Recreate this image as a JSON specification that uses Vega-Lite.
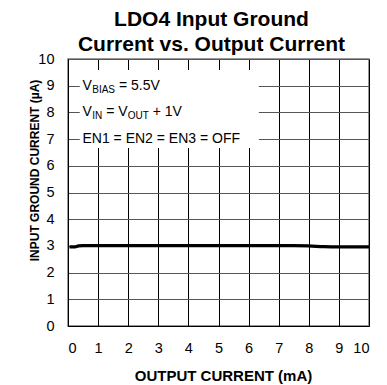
{
  "$schema": "https://vega.github.io/schema/vega-lite/v6.json",
  "width": 301,
  "height": 267,
  "autosize": "none",
  "padding": {"left": 68, "top": 59, "right": 18, "bottom": 59},
  "background": "white",
  "config": {
    "font": "Liberation Sans",
    "view": {"stroke": "#777777", "strokeWidth": 1.5}
  },
  "title": {
    "text": ["LDO4 Input Ground", "Current vs. Output Current"],
    "fontSize": 21,
    "fontWeight": "bold",
    "font": "Liberation Sans",
    "color": "black",
    "anchor": "middle",
    "frame": "group",
    "dx": -7,
    "dy": 4,
    "lineHeight": 25,
    "offset": 0
  },
  "data": {
    "values": [
      {"current": 0.05, "ignd": 2.96},
      {"current": 0.2, "ignd": 2.96},
      {"current": 0.35, "ignd": 3.0},
      {"current": 0.5, "ignd": 3.01},
      {"current": 1, "ignd": 3.01},
      {"current": 2, "ignd": 3.01},
      {"current": 3, "ignd": 3.01},
      {"current": 4, "ignd": 3.01},
      {"current": 5, "ignd": 3.01},
      {"current": 6, "ignd": 3.01},
      {"current": 7, "ignd": 3.01},
      {"current": 7.5, "ignd": 3.01},
      {"current": 8, "ignd": 3.0},
      {"current": 8.5, "ignd": 2.97},
      {"current": 9, "ignd": 2.96},
      {"current": 10, "ignd": 2.96}
    ]
  },
  "encoding": {
    "x": {
      "field": "current",
      "type": "quantitative",
      "scale": {"domain": [0, 10], "nice": false, "zero": false},
      "axis": {
        "title": "OUTPUT CURRENT (mA)",
        "values": [0, 1, 2, 3, 4, 5, 6, 7, 8, 9, 10],
        "labelOverlap": false,
        "ticks": false,
        "labelFontSize": 14.5,
        "labelColor": "black",
        "labelPadding": 15,
        "domainColor": "black",
        "domainWidth": 1,
        "gridColor": "black",
        "gridOpacity": 1,
        "gridWidth": 1,
        "titleFontSize": 15,
        "titleFontWeight": "bold",
        "titleColor": "black",
        "titlePadding": 14,
        "titleX": 155
      }
    },
    "y": {
      "field": "ignd",
      "type": "quantitative",
      "scale": {"domain": [0, 10], "nice": false, "zero": false},
      "axis": {
        "title": "INPUT GROUND CURRENT (µA)",
        "values": [0, 1, 2, 3, 4, 5, 6, 7, 8, 9, 10],
        "labelOverlap": false,
        "ticks": false,
        "labelFontSize": 14.5,
        "labelColor": "black",
        "labelPadding": 14,
        "domainColor": "black",
        "domainWidth": 1,
        "gridColor": "#555555",
        "gridOpacity": 1,
        "gridWidth": 1,
        "titleFontSize": 12,
        "titleFontWeight": "bold",
        "titleColor": "black",
        "titleAngle": -90,
        "titleBaseline": "middle",
        "titleAlign": "center",
        "titleX": -34,
        "titleY": 111
      }
    }
  },
  "layer": [
    {
      "transform": [{"filter": "datum.current == 10"}],
      "mark": {"type": "rect", "color": "white", "opacity": 1},
      "encoding": {
        "x": {"datum": 0.39},
        "x2": {"datum": 6.34},
        "y": {"datum": 9.59},
        "y2": {"datum": 6.67}
      }
    },
    {
      "mark": {"type": "line", "color": "black", "strokeWidth": 3.2, "interpolate": "monotone"}
    },
    {
      "transform": [{"filter": "datum.current == 10"}],
      "mark": {"type": "text", "align": "left", "baseline": "middle", "fontSize": 14, "color": "black"},
      "encoding": {"x": {"datum": 0.48}, "y": {"datum": 9}, "text": {"value": "V"}}
    },
    {
      "transform": [{"filter": "datum.current == 10"}],
      "mark": {"type": "text", "align": "left", "baseline": "middle", "fontSize": 10, "dx": 9.8, "dy": 4, "color": "black"},
      "encoding": {"x": {"datum": 0.48}, "y": {"datum": 9}, "text": {"value": "BIAS"}}
    },
    {
      "transform": [{"filter": "datum.current == 10"}],
      "mark": {"type": "text", "align": "left", "baseline": "middle", "fontSize": 14, "dx": 36.5, "color": "black"},
      "encoding": {"x": {"datum": 0.48}, "y": {"datum": 9}, "text": {"value": "= 5.5V"}}
    },
    {
      "transform": [{"filter": "datum.current == 10"}],
      "mark": {"type": "text", "align": "left", "baseline": "middle", "fontSize": 14, "color": "black"},
      "encoding": {"x": {"datum": 0.48}, "y": {"datum": 8}, "text": {"value": "V"}}
    },
    {
      "transform": [{"filter": "datum.current == 10"}],
      "mark": {"type": "text", "align": "left", "baseline": "middle", "fontSize": 10, "dx": 9.8, "dy": 4, "color": "black"},
      "encoding": {"x": {"datum": 0.48}, "y": {"datum": 8}, "text": {"value": "IN"}}
    },
    {
      "transform": [{"filter": "datum.current == 10"}],
      "mark": {"type": "text", "align": "left", "baseline": "middle", "fontSize": 14, "dx": 23.7, "color": "black"},
      "encoding": {"x": {"datum": 0.48}, "y": {"datum": 8}, "text": {"value": "= V"}}
    },
    {
      "transform": [{"filter": "datum.current == 10"}],
      "mark": {"type": "text", "align": "left", "baseline": "middle", "fontSize": 10, "dx": 45.3, "dy": 4, "color": "black"},
      "encoding": {"x": {"datum": 0.48}, "y": {"datum": 8}, "text": {"value": "OUT"}}
    },
    {
      "transform": [{"filter": "datum.current == 10"}],
      "mark": {"type": "text", "align": "left", "baseline": "middle", "fontSize": 14, "dx": 70.3, "color": "black"},
      "encoding": {"x": {"datum": 0.48}, "y": {"datum": 8}, "text": {"value": "+ 1V"}}
    },
    {
      "transform": [{"filter": "datum.current == 10"}],
      "mark": {"type": "text", "align": "left", "baseline": "middle", "fontSize": 14, "color": "black"},
      "encoding": {"x": {"datum": 0.48}, "y": {"datum": 7}, "text": {"value": "EN1 = EN2 = EN3 = OFF"}}
    }
  ]
}
